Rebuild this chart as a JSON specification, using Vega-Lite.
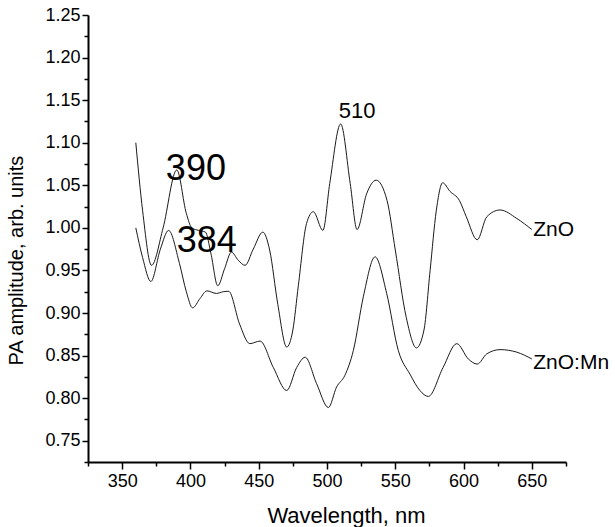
{
  "$schema": "https://vega.github.io/schema/vega-lite/v6.json",
  "width": 478,
  "height": 447,
  "autosize": "none",
  "padding": {"left": 88, "top": 15, "right": 49, "bottom": 65},
  "background": "white",
  "config": {"view": {"stroke": null}, "font": "Liberation Sans"},
  "datasets": {
    "curves": [
      {"sample": "ZnO", "wavelength": 360, "amplitude": 1.100},
      {"sample": "ZnO", "wavelength": 365, "amplitude": 1.020},
      {"sample": "ZnO", "wavelength": 371.5, "amplitude": 0.956},
      {"sample": "ZnO", "wavelength": 380, "amplitude": 1.000},
      {"sample": "ZnO", "wavelength": 390, "amplitude": 1.068},
      {"sample": "ZnO", "wavelength": 397, "amplitude": 1.017},
      {"sample": "ZnO", "wavelength": 401, "amplitude": 1.000},
      {"sample": "ZnO", "wavelength": 406, "amplitude": 0.997},
      {"sample": "ZnO", "wavelength": 411, "amplitude": 0.995},
      {"sample": "ZnO", "wavelength": 415, "amplitude": 0.970},
      {"sample": "ZnO", "wavelength": 420, "amplitude": 0.932},
      {"sample": "ZnO", "wavelength": 425, "amplitude": 0.952},
      {"sample": "ZnO", "wavelength": 430, "amplitude": 0.9715},
      {"sample": "ZnO", "wavelength": 435, "amplitude": 0.962},
      {"sample": "ZnO", "wavelength": 440, "amplitude": 0.956},
      {"sample": "ZnO", "wavelength": 446, "amplitude": 0.975},
      {"sample": "ZnO", "wavelength": 453, "amplitude": 0.995},
      {"sample": "ZnO", "wavelength": 458, "amplitude": 0.974},
      {"sample": "ZnO", "wavelength": 464, "amplitude": 0.910},
      {"sample": "ZnO", "wavelength": 470.5, "amplitude": 0.860},
      {"sample": "ZnO", "wavelength": 475, "amplitude": 0.880},
      {"sample": "ZnO", "wavelength": 479, "amplitude": 0.932},
      {"sample": "ZnO", "wavelength": 485, "amplitude": 1.005},
      {"sample": "ZnO", "wavelength": 490, "amplitude": 1.019},
      {"sample": "ZnO", "wavelength": 497, "amplitude": 0.997},
      {"sample": "ZnO", "wavelength": 502, "amplitude": 1.052},
      {"sample": "ZnO", "wavelength": 510, "amplitude": 1.122},
      {"sample": "ZnO", "wavelength": 517, "amplitude": 1.052},
      {"sample": "ZnO", "wavelength": 522, "amplitude": 0.998},
      {"sample": "ZnO", "wavelength": 529, "amplitude": 1.040},
      {"sample": "ZnO", "wavelength": 536, "amplitude": 1.056},
      {"sample": "ZnO", "wavelength": 544, "amplitude": 1.032},
      {"sample": "ZnO", "wavelength": 550, "amplitude": 0.974},
      {"sample": "ZnO", "wavelength": 558, "amplitude": 0.895},
      {"sample": "ZnO", "wavelength": 565.5, "amplitude": 0.859},
      {"sample": "ZnO", "wavelength": 571, "amplitude": 0.880},
      {"sample": "ZnO", "wavelength": 575.5, "amplitude": 0.950},
      {"sample": "ZnO", "wavelength": 580, "amplitude": 1.020},
      {"sample": "ZnO", "wavelength": 584.7, "amplitude": 1.053},
      {"sample": "ZnO", "wavelength": 590, "amplitude": 1.043},
      {"sample": "ZnO", "wavelength": 597, "amplitude": 1.032},
      {"sample": "ZnO", "wavelength": 602, "amplitude": 1.013},
      {"sample": "ZnO", "wavelength": 610, "amplitude": 0.986},
      {"sample": "ZnO", "wavelength": 617, "amplitude": 1.013},
      {"sample": "ZnO", "wavelength": 626.7, "amplitude": 1.021},
      {"sample": "ZnO", "wavelength": 639, "amplitude": 1.011},
      {"sample": "ZnO", "wavelength": 650, "amplitude": 0.998},
      {"sample": "ZnO:Mn", "wavelength": 360, "amplitude": 1.000},
      {"sample": "ZnO:Mn", "wavelength": 365, "amplitude": 0.965},
      {"sample": "ZnO:Mn", "wavelength": 371, "amplitude": 0.937},
      {"sample": "ZnO:Mn", "wavelength": 378, "amplitude": 0.975},
      {"sample": "ZnO:Mn", "wavelength": 384, "amplitude": 0.997},
      {"sample": "ZnO:Mn", "wavelength": 392, "amplitude": 0.958},
      {"sample": "ZnO:Mn", "wavelength": 397, "amplitude": 0.925},
      {"sample": "ZnO:Mn", "wavelength": 401.6, "amplitude": 0.906},
      {"sample": "ZnO:Mn", "wavelength": 407, "amplitude": 0.917},
      {"sample": "ZnO:Mn", "wavelength": 412, "amplitude": 0.926},
      {"sample": "ZnO:Mn", "wavelength": 419, "amplitude": 0.923},
      {"sample": "ZnO:Mn", "wavelength": 424, "amplitude": 0.925},
      {"sample": "ZnO:Mn", "wavelength": 428, "amplitude": 0.9255},
      {"sample": "ZnO:Mn", "wavelength": 436, "amplitude": 0.887},
      {"sample": "ZnO:Mn", "wavelength": 443.5, "amplitude": 0.864},
      {"sample": "ZnO:Mn", "wavelength": 451, "amplitude": 0.867},
      {"sample": "ZnO:Mn", "wavelength": 460.7, "amplitude": 0.836},
      {"sample": "ZnO:Mn", "wavelength": 470.5, "amplitude": 0.809},
      {"sample": "ZnO:Mn", "wavelength": 477.8, "amplitude": 0.836},
      {"sample": "ZnO:Mn", "wavelength": 484, "amplitude": 0.848},
      {"sample": "ZnO:Mn", "wavelength": 492.4, "amplitude": 0.817},
      {"sample": "ZnO:Mn", "wavelength": 501, "amplitude": 0.789},
      {"sample": "ZnO:Mn", "wavelength": 507, "amplitude": 0.813},
      {"sample": "ZnO:Mn", "wavelength": 513, "amplitude": 0.8265},
      {"sample": "ZnO:Mn", "wavelength": 519.3, "amplitude": 0.856},
      {"sample": "ZnO:Mn", "wavelength": 526.6, "amplitude": 0.919},
      {"sample": "ZnO:Mn", "wavelength": 535.2, "amplitude": 0.966},
      {"sample": "ZnO:Mn", "wavelength": 543.7, "amplitude": 0.923},
      {"sample": "ZnO:Mn", "wavelength": 552.2, "amplitude": 0.856},
      {"sample": "ZnO:Mn", "wavelength": 560.8, "amplitude": 0.828},
      {"sample": "ZnO:Mn", "wavelength": 568, "amplitude": 0.809},
      {"sample": "ZnO:Mn", "wavelength": 574.2, "amplitude": 0.802},
      {"sample": "ZnO:Mn", "wavelength": 585, "amplitude": 0.836},
      {"sample": "ZnO:Mn", "wavelength": 595, "amplitude": 0.864},
      {"sample": "ZnO:Mn", "wavelength": 603.5, "amplitude": 0.846},
      {"sample": "ZnO:Mn", "wavelength": 610, "amplitude": 0.840},
      {"sample": "ZnO:Mn", "wavelength": 617, "amplitude": 0.852},
      {"sample": "ZnO:Mn", "wavelength": 626.7, "amplitude": 0.857},
      {"sample": "ZnO:Mn", "wavelength": 639, "amplitude": 0.854},
      {"sample": "ZnO:Mn", "wavelength": 650, "amplitude": 0.846}
    ],
    "labels": [
      {"label": "ZnO", "wavelength": 651, "amplitude": 0.998},
      {"label": "ZnO:Mn", "wavelength": 651, "amplitude": 0.841}
    ],
    "peaks": [
      {"label": "390", "wavelength": 404, "amplitude": 1.056},
      {"label": "384", "wavelength": 412, "amplitude": 0.9715},
      {"label": "510", "wavelength": 522, "amplitude": 1.1296}
    ]
  },
  "layer": [
    {
      "data": {"name": "curves"},
      "mark": {"type": "line", "interpolate": "monotone", "color": "#1a1a1a", "strokeWidth": 1},
      "encoding": {
        "x": {
          "field": "wavelength",
          "type": "quantitative",
          "scale": {"domain": [325, 675], "nice": false, "zero": false},
          "axis": {
            "orient": "bottom",
            "values": [350, 400, 450, 500, 550, 600, 650],
            "tickSize": 7,
            "labelOverlap": false,
            "labelFlush": false,
            "grid": false,
            "domainColor": "black",
            "domainWidth": 2,
            "tickColor": "black",
            "tickWidth": 1.5,
            "labelFont": "Liberation Sans",
            "labelFontSize": 18,
            "labelColor": "black",
            "labelPadding": 3,
            "title": "Wavelength, nm",
            "titleFont": "Liberation Sans",
            "titleFontSize": 22,
            "titleFontWeight": "normal",
            "titleColor": "black",
            "titleX": 258,
            "titleY": 60,
            "titleAlign": "center",
            "titleBaseline": "alphabetic"
          }
        },
        "y": {
          "field": "amplitude",
          "type": "quantitative",
          "scale": {"domain": [0.725, 1.25], "nice": false, "zero": false},
          "axis": {
            "orient": "left",
            "values": [0.75, 0.8, 0.85, 0.9, 0.95, 1.0, 1.05, 1.1, 1.15, 1.2, 1.25],
            "format": ".2f",
            "tickSize": 6,
            "labelOverlap": false,
            "labelFlush": false,
            "grid": false,
            "domainColor": "black",
            "domainWidth": 2,
            "tickColor": "black",
            "tickWidth": 1.5,
            "labelFont": "Liberation Sans",
            "labelFontSize": 18,
            "labelColor": "black",
            "labelPadding": 2,
            "title": "PA amplitude, arb. units",
            "titleFont": "Liberation Sans",
            "titleFontSize": 20,
            "titleFontWeight": "normal",
            "titleColor": "black",
            "titleAngle": -90,
            "titleX": -66,
            "titleY": 245,
            "titleAlign": "center",
            "titleBaseline": "alphabetic"
          }
        },
        "detail": {"field": "sample"}
      }
    },
    {
      "data": {"name": "curves"},
      "mark": {"type": "line", "interpolate": "monotone", "strokeOpacity": 0, "strokeWidth": 1},
      "encoding": {
        "x": {
          "field": "wavelength",
          "type": "quantitative",
          "axis": {
            "orient": "bottom",
            "values": [325, 375, 425, 475, 525, 575, 625, 675],
            "tickSize": 4,
            "labels": false,
            "domain": false,
            "grid": false,
            "tickColor": "black",
            "tickWidth": 1.5,
            "title": null
          }
        },
        "y": {
          "field": "amplitude",
          "type": "quantitative",
          "axis": {
            "orient": "left",
            "values": [0.725, 0.775, 0.825, 0.875, 0.925, 0.975, 1.025, 1.075, 1.125, 1.175, 1.225],
            "tickSize": 4,
            "labels": false,
            "domain": false,
            "grid": false,
            "tickColor": "black",
            "tickWidth": 1.5,
            "title": null
          }
        },
        "detail": {"field": "sample"}
      }
    },
    {
      "data": {"name": "labels"},
      "mark": {"type": "text", "align": "left", "baseline": "middle", "font": "Liberation Sans", "fontSize": 21, "color": "black"},
      "encoding": {
        "x": {"field": "wavelength", "type": "quantitative", "axis": null},
        "y": {"field": "amplitude", "type": "quantitative", "axis": null},
        "text": {"field": "label"}
      }
    },
    {
      "data": {"name": "peaks"},
      "transform": [{"filter": "datum.label != '510'"}],
      "mark": {"type": "text", "align": "center", "baseline": "alphabetic", "font": "Liberation Sans", "fontSize": 36, "color": "black"},
      "encoding": {
        "x": {"field": "wavelength", "type": "quantitative", "axis": null},
        "y": {"field": "amplitude", "type": "quantitative", "axis": null},
        "text": {"field": "label"}
      }
    },
    {
      "data": {"name": "peaks"},
      "transform": [{"filter": "datum.label == '510'"}],
      "mark": {"type": "text", "align": "center", "baseline": "alphabetic", "font": "Liberation Sans", "fontSize": 22, "color": "black"},
      "encoding": {
        "x": {"field": "wavelength", "type": "quantitative", "axis": null},
        "y": {"field": "amplitude", "type": "quantitative", "axis": null},
        "text": {"field": "label"}
      }
    }
  ],
  "resolve": {"axis": {"x": "independent", "y": "independent"}}
}
